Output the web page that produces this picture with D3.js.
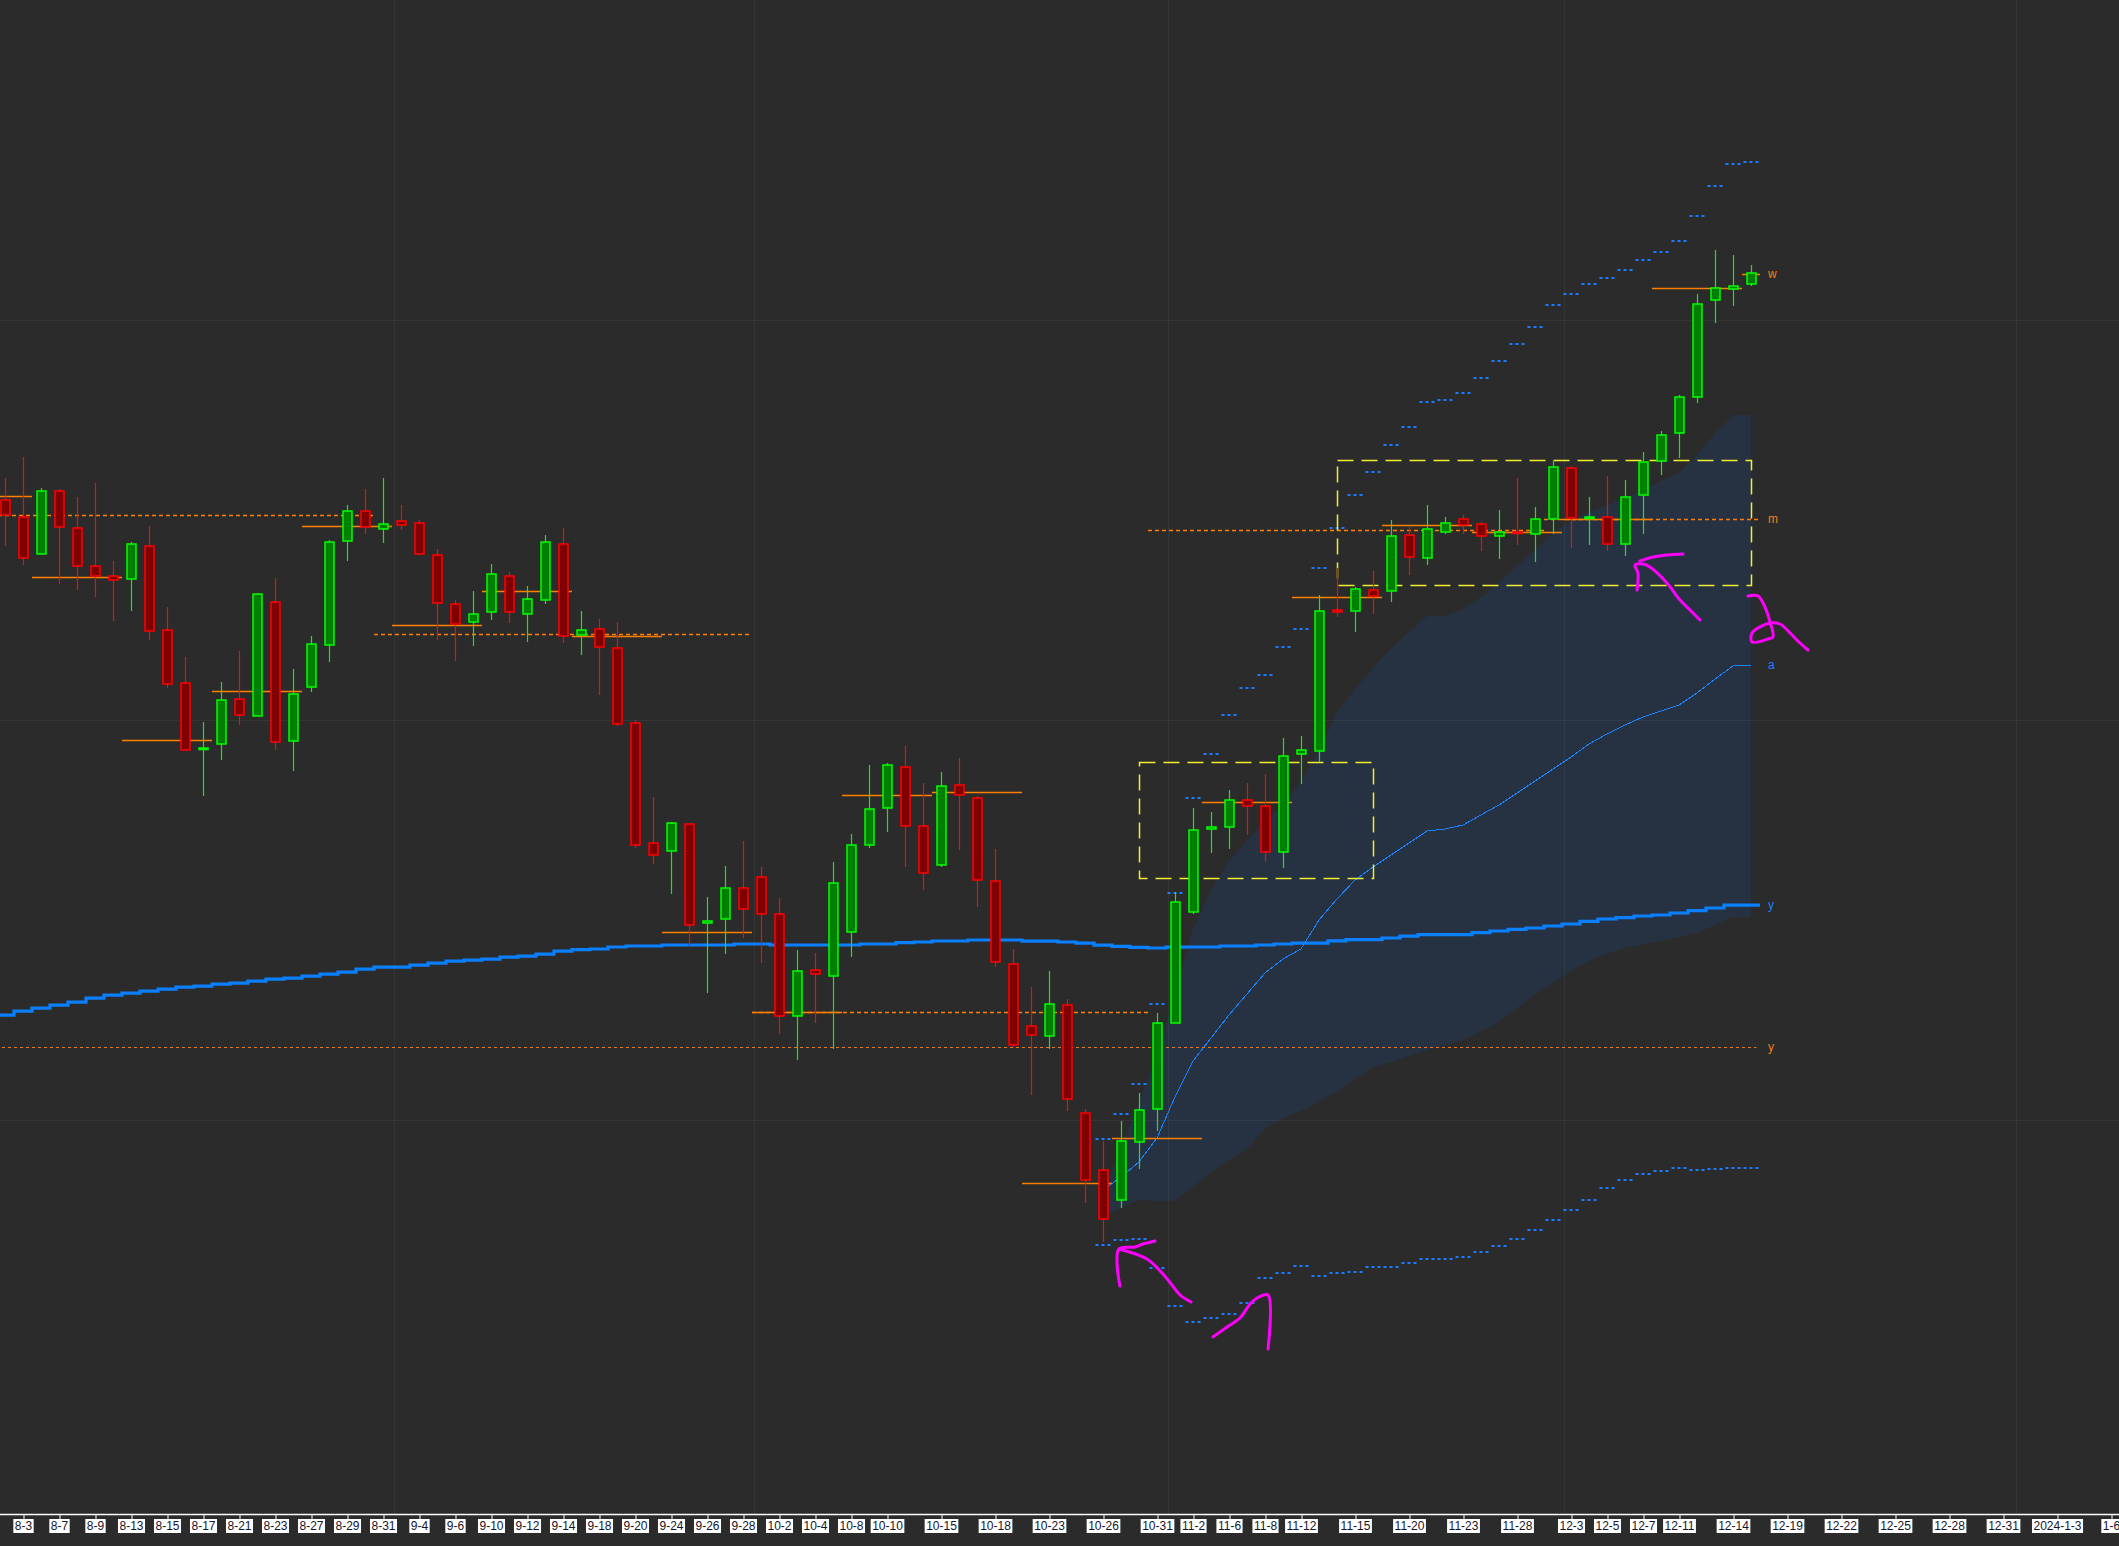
<!DOCTYPE html>
<html><head><meta charset="utf-8">
<script src="https://cdn.jsdelivr.net/npm/d3@7"></script>
<style>
html,body{margin:0;padding:0;background:#2b2b2b;overflow:hidden}
svg{display:block}
</style></head><body>
<svg id="c" width="2119" height="1546"></svg>
<script>
// ---------- DATA ----------
const opens = [
3510,3501.5,3483,3514.5,3496,3477,3472,3470.5,3487,3445,
3418.5,3385.5,3388,3410.5,3402,3459,3389.5,3416.5,3437.5,3489.5,
3504.5,3495.5,3499.5,3498.5,3482.5,3458,3449,3454,3472,3453,
3460,3488,3442.5,3445.5,3436,3398.5,3338.5,3334.5,3348,3298.5,
3300.5,3316,3321.5,3303,3252,3275,3272,3294,3337.5,3356,
3376.5,3347,3327.5,3367.5,3361,3319.5,3278,3247,3242,3257.5,
3203.5,3175,3160,3189,3205.5,3248.5,3304,3345.5,3346.5,3360,
3357,3334,3383,3384.5,3455,3454.5,3465,3464.5,3492.5,3481,
3494,3500.5,3498,3492,3494,3493,3500.5,3526,3501,3501.5,
3488,3512.5,3529.5,3543.5,3561.5,3610,3615.5,3618];
const highs = [
3521,3531.5,3516,3515.5,3511.5,3518.5,3479.5,3489,3497,3456.5,
3431.5,3399,3419,3434.5,3463.5,3471,3425.5,3442,3490,3507.5,
3515.5,3521,3507.5,3500,3485.5,3460,3464.5,3478,3474,3467,
3492.5,3496,3454.5,3450.5,3449,3400,3361.5,3349,3348,3311.5,
3327,3339.5,3326.5,3311,3285,3283.5,3329,3343,3377.5,3378.5,
3387,3368.5,3374,3381,3362,3335.5,3285.5,3266.5,3274.5,3260.5,
3205.5,3189.5,3199.5,3213.5,3253.5,3314,3356,3354,3365,3368.5,
3373,3391,3392,3462.5,3476,3466.5,3474.5,3500,3496.5,3507.5,
3501.5,3502.5,3499,3505,3521,3506.5,3529.5,3527,3511.5,3522,
3520,3534,3544.5,3562.5,3613,3635,3632.5,3627.5];
const lows = [
3487,3477.5,3483,3468,3465,3461.5,3449.5,3454.5,3440,3416,
3385,3362,3380,3397.5,3402,3385,3374.5,3414,3429,3479.5,
3493,3488.5,3495,3482.5,3440,3429.5,3437,3450,3448.5,3439,
3458,3438.5,3432.5,3412.5,3397,3336,3328,3313,3286.5,3263.5,
3283,3291,3278.5,3243,3230,3248.5,3235.5,3281.5,3336,3344,
3326.5,3315,3326.5,3335,3306.5,3276.5,3236.5,3212.5,3235.5,3204.5,
3158.5,3139,3156,3175.5,3194.5,3248.5,3303,3333.5,3335.5,3342.5,
3329,3326,3368,3379,3451.5,3444,3453,3459,3472.5,3477.5,
3493,3493,3484.5,3480.5,3487.5,3479,3493,3486,3487.5,3484.5,
3482,3493,3522.5,3531,3558.5,3598.5,3607,3617];
const closes = [
3502.5,3481,3514.5,3496.5,3477,3472,3470,3488,3444.5,3418,
3385,3386,3410,3402.5,3463,3389,3413,3438,3489,3504.5,
3496.5,3498,3497.5,3483,3458.5,3448,3453,3473,3454,3460.5,
3489,3442,3445,3436.5,3398,3337.5,3332.5,3348.5,3297.5,3299.5,
3316,3305.5,3303,3252,3274.5,3273,3318.5,3337.5,3355.5,3377.5,
3347,3323.5,3367,3362.5,3320,3279,3237.5,3242.5,3258,3210.5,
3170,3150.5,3189.5,3205,3248.5,3309,3345,3346.5,3360,3357,
3334,3382,3385,3454.5,3454,3465.5,3462,3492,3481.5,3495.5,
3498.5,3497.5,3492,3494,3493.5,3500.5,3526.5,3501,3501.5,3488,
3511.5,3529,3542.5,3561.5,3608,3616,3617,3623.5];

// long moving average (thick line, label "y"), one value per candle
const maLong = [
3252.4,3254.4,3255.9,3257.4,3258.9,3260.9,3262.4,3263.4,3264.4,3265.4,
3266.4,3266.9,3267.9,3268.4,3269.4,3270.4,3270.9,3271.9,3272.9,3273.9,
3275.4,3276.4,3276.4,3277.4,3278.4,3279.4,3279.9,3280.4,3281.4,3281.9,
3282.9,3284.4,3285.2,3285.5,3286.5,3287,3287,3287.5,3287.5,3287.5,
3287.5,3288,3288,3287.5,3287.5,3287.5,3287.5,3287.5,3288,3288,
3288.7,3289,3289.5,3289.5,3290,3290,3290,3289.4,3289.4,3289,
3288.4,3287.4,3286.8,3286.3,3286,3286.4,3286.5,3286.5,3287,3287,
3287.5,3288,3288.4,3288.4,3289.6,3290.2,3290.2,3291,3291.9,3292.7,
3292.7,3292.7,3293.7,3294.5,3295.3,3296,3297,3298,3299.3,3300.5,
3301.2,3302,3302.5,3303.5,3304.7,3306,3307.4,3307.4];

// anchored series starting at candle 61
const anchorStart = 61;
const avgLine = [3165,3171.5,3179,3191,3211.5,3229.5,3241,3252.5,3263,3273.5,3280.5,3285.5,3300,3310.5,3320,3326.5,3332.5,3338.5,3344.5,3345.5,3347.5,3352.5,3357.5,3363.5,3369.5,3375.5,3381.5,3388,3393,3397.5,3401.5,3404.5,3407.5,3413.5,3420.5,3427,3427.5];
const bandUpper = [3165,3185.5,3209,3232.5,3263.5,3295.5,3315,3329.5,3339.5,3349,3358,3369,3385,3403.5,3415.5,3426,3435.5,3444,3452,3452,3455.5,3461.5,3468.5,3477,3485,3493.5,3499.5,3504,3507.5,3511,3515,3519.5,3523.5,3532.5,3543.5,3552.5,3552.5];
const bandLower = [3151.5,3156,3160,3159.5,3159.5,3166.5,3174,3180,3185.5,3195.5,3201,3204.5,3209,3214.5,3220.5,3226.5,3229,3232,3235,3237.5,3240,3244.5,3249,3256,3262.5,3268.5,3274.5,3279.5,3283,3286,3288,3289.5,3291.5,3293.5,3297.5,3301.5,3301.5];
const stopUpper = [3190.5,3203,3218,3258,3313.5,3361,3383,3402.5,3416,3422.5,3436.5,3445.5,3476,3496,3512.5,3524,3537.5,3546.5,3559,3560,3563.5,3571,3579.5,3588,3596.5,3607.5,3613,3618,3621,3625,3630,3634,3639.5,3652,3667,3678,3679];
const stopLower = [3137.5,3140,3140.5,3126,3107,3099,3101,3103,3108.5,3121,3123.5,3127,3122,3123.5,3124,3126.5,3126.5,3128.5,3130.5,3130.5,3131.5,3134,3137,3140.5,3145,3150,3155,3160,3166,3170,3173,3174.5,3176,3175,3175.5,3176,3176];

// weekly / monthly / yearly reference levels
const weekStarts = [-3,2,7,12,17,22,27,32,37,42,47,52,57,62,67,72,77,82,87,92,97];
const weeklyLevels = [3512,3471.5,3390,3414.5,3497,3447.5,3464.5,3442,3294,3254,3362.5,3364,3168.5,3191,3359,3461.5,3497.5,3494,3500.5,3616,3623];
const monthStarts = [-3,21,42,64,86];
const monthEnds = [20,41,63,85,97];
const monthlyLevels = [3502.5,3443,3254,3495,3500.5];
const yearlyLevel = 3236.5;

// consolidation boxes [firstCandle, lastCandle, low, high]
const boxes = [[63,76,3321,3379],[74,97,3467.5,3530]];

// hand-drawn marks (candle index, price)
const strokes = [
 [[61.94,3117],[61.78,3128.5],[61.89,3135.5],[62.78,3136.5],[63.22,3138],[63.89,3139.5]],
 [[61.89,3135.5],[63.44,3130.5],[64.28,3123.5],[64.83,3117.5],[65.28,3112.5],[65.89,3109]],
 [[67.11,3091.5],[67.89,3096.5],[68.61,3101],[69.17,3108],[69.56,3111],[70.17,3112.5],[70.17,3085.5]],
 [[90.67,3465],[90.72,3473.5],[90.56,3477.5],[91,3478],[91.39,3476.5],[92.33,3468.5],[93.06,3460],[93.78,3453.5],[94.17,3450]],
 [[90.83,3479.5],[91.56,3481.5],[92.33,3482.5],[93.22,3483]],
 [[96.83,3462],[97.39,3462],[97.67,3458.5],[98.06,3449],[98.22,3441.5],[97.94,3440.5],[97.06,3439],[97.06,3443.5],[98.06,3448.5],[98.61,3448],[99.17,3443.5],[99.72,3438.5],[100.17,3435]]
];

// axis
const tickLabels = ["8-3","8-7","8-9","8-13","8-15","8-17","8-21","8-23","8-27","8-29","8-31","9-4","9-6","9-10","9-12","9-14","9-18","9-20","9-24","9-26","9-28","10-2","10-4","10-8","10-10","10-15","10-18","10-23","10-26","10-31","11-2","11-6","11-8","11-12","11-15","11-20","11-23","11-28","12-3","12-5","12-7","12-11","12-14","12-19","12-22","12-25","12-28","12-31","2024-1-3","1-6"];
const tickIndex = [1,3,5,7,9,11,13,15,17,19,21,23,25,27,29,31,33,35,37,39,41,43,45,47,49,52,55,58,61,64,66,68,70,72,75,78,81,84,87,89,91,93,96,99,102,105,108,111,114,117];
const gridPrices = [3200,3400,3600];
const gridIndex = [21.6,41.6,64.6,86.6,111.7];

// ---------- DRAW ----------
const W = 2119, H = 1546, AXIS_Y = 1514;
const x = d3.scaleLinear().domain([0,97]).range([5,1751]);
const y = d3.scaleLinear().domain([3200,3600]).range([1120,320]);
const svg = d3.select('#c');
svg.append('rect').attr('width',W).attr('height',H).attr('fill','#2b2b2b');

const anchored = avgLine.map((v,k)=>({i:anchorStart+k, a:v, u:bandUpper[k], l:bandLower[k], su:stopUpper[k], sl:stopLower[k]}));

// band
svg.append('path').datum(anchored)
  .attr('d', d3.area().x(d=>x(d.i)).y0(d=>y(d.l)).y1(d=>y(d.u)))
  .attr('fill','rgb(33,57,89)').attr('fill-opacity',0.5);

// grid
const grid = svg.append('g').attr('stroke','rgba(255,255,255,0.05)').attr('stroke-width',1);
grid.selectAll('.h').data(gridPrices).join('line')
  .attr('x1',0).attr('x2',W).attr('y1',d=>Math.round(y(d))+0.5).attr('y2',d=>Math.round(y(d))+0.5);
grid.selectAll('.v').data(gridIndex).join('line')
  .attr('y1',0).attr('y2',AXIS_Y).attr('x1',d=>Math.round(x(d))+0.5).attr('x2',d=>Math.round(x(d))+0.5);

// long MA step line
const stepPts = [];
maLong.forEach((v,i)=>{ stepPts.push([i-0.5,v]); stepPts.push([i+0.5,v]); });
svg.append('path').datum(stepPts)
  .attr('d', d3.line().x(d=>x(d[0])).y(d=>y(d[1])))
  .attr('fill','none').attr('stroke','#0a80ff').attr('stroke-width',3.2);

// anchored average thin line
svg.append('path').datum(anchored)
  .attr('d', d3.line().x(d=>x(d.i)).y(d=>y(d.a)))
  .attr('fill','none').attr('stroke','#1a84ff').attr('stroke-width',1)
  .attr('shape-rendering','crispEdges');

// levels
const lv = svg.append('g').attr('fill','none');
const weeks = weeklyLevels.map((v,k)=>({s:weekStarts[k], e:(k<weekStarts.length-1?weekStarts[k+1]-1:97), v}));
lv.selectAll('.w').data(weeks).join('line')
  .attr('x1',d=>x(d.s-0.5)).attr('x2',d=>x(d.e+0.5))
  .attr('y1',d=>Math.round(y(d.v))+0.5).attr('y2',d=>Math.round(y(d.v))+0.5)
  .attr('stroke','#ff8000').attr('stroke-width',1.5);
const months = monthlyLevels.map((v,k)=>({s:monthStarts[k], e:monthEnds[k], v}));
lv.selectAll('.m').data(months).join('line')
  .attr('x1',d=>x(d.s-0.5)).attr('x2',d=>x(d.e+0.5))
  .attr('y1',d=>Math.round(y(d.v))+0.5).attr('y2',d=>Math.round(y(d.v))+0.5)
  .attr('stroke','#ff8000').attr('stroke-width',1.5).attr('stroke-dasharray','4,3');
lv.append('line')
  .attr('x1',x(-3.5)).attr('x2',x(97.3))
  .attr('y1',Math.round(y(yearlyLevel))+0.5).attr('y2',Math.round(y(yearlyLevel))+0.5)
  .attr('stroke','#e87a18').attr('stroke-width',1.2).attr('stroke-dasharray','3,3');

// stop dashes
const sd = svg.append('g').attr('stroke','#1a7cff').attr('stroke-width',2).attr('stroke-dasharray','3,3');
['su','sl'].forEach(key=>{
  sd.selectAll('.'+key).data(anchored).join('line')
    .attr('x1',d=>x(d.i)-7.5).attr('x2',d=>x(d.i)+7.5)
    .attr('y1',d=>Math.round(y(d[key]))).attr('y2',d=>Math.round(y(d[key])));
});

// boxes
svg.append('g').selectAll('rect').data(boxes).join('rect')
  .attr('x',d=>x(d[0])+0.5).attr('width',d=>x(d[1])-x(d[0]))
  .attr('y',d=>Math.round(y(d[3]))+0.5).attr('height',d=>y(d[2])-y(d[3]))
  .attr('fill','none').attr('stroke','#f0f030').attr('stroke-width',1.5)
  .attr('stroke-dasharray','16,8');

// candles
const cdata = opens.map((o,i)=>({i,o,h:highs[i],l:lows[i],c:closes[i],up:closes[i]>=o}));
const cg = svg.append('g');
cg.selectAll('.wk').data(cdata).join('line')
  .attr('x1',d=>x(d.i)+0.5).attr('x2',d=>x(d.i)+0.5)
  .attr('y1',d=>y(d.h)).attr('y2',d=>y(d.l))
  .attr('stroke',d=>d.up?'#18e818':'#e81010').attr('stroke-width',1.2);
cg.selectAll('.bd').data(cdata).join('rect')
  .attr('x',d=>x(d.i)-4).attr('width',9)
  .attr('y',d=>y(Math.max(d.o,d.c)))
  .attr('height',d=>Math.max(1.5, Math.abs(y(d.o)-y(d.c))))
  .attr('fill',d=>d.up?'#008000':'#800000')
  .attr('stroke',d=>d.up?'#00ff00':'#ff0000').attr('stroke-width',1.5);

// hand-drawn marks
svg.append('g').selectAll('path').data(strokes).join('path')
  .attr('d', d3.line().x(d=>x(d[0])).y(d=>y(d[1])).curve(d3.curveCatmullRom))
  .attr('fill','none').attr('stroke','#ff00ff').attr('stroke-width',3)
  .attr('stroke-linecap','round').attr('stroke-linejoin','round');

// right-side labels
const labels = [
  {t:'w', v:weeklyLevels[weeklyLevels.length-1], c:'#f08020'},
  {t:'m', v:monthlyLevels[monthlyLevels.length-1], c:'#f08020'},
  {t:'a', v:avgLine[avgLine.length-1], c:'#1a80ff'},
  {t:'y', v:maLong[maLong.length-1], c:'#1a80ff'},
  {t:'y', v:yearlyLevel, c:'#f08020'}
];
svg.append('g').selectAll('text').data(labels).join('text')
  .attr('x',x(97)+17).attr('y',d=>y(d.v)).attr('dy','0.35em')
  .attr('fill',d=>d.c).attr('font-family','Liberation Sans, Arial, sans-serif')
  .attr('font-size',12).text(d=>d.t);

// x axis
svg.append('line').attr('x1',0).attr('x2',W).attr('y1',AXIS_Y+0.5).attr('y2',AXIS_Y+0.5)
  .attr('stroke','#ffffff').attr('stroke-width',1.5);
const axis = d3.axisBottom(x).tickValues(tickIndex)
  .tickFormat((d,k)=>tickLabels[k]).tickSizeInner(5).tickSizeOuter(0).tickPadding(2);
const ag = svg.append('g').attr('transform',`translate(0,${AXIS_Y})`).call(axis);
ag.select('.domain').remove();
ag.selectAll('.tick line').attr('stroke','#ffffff').attr('x1',0.5).attr('x2',0.5);
ag.selectAll('.tick text').attr('fill','#14142a').attr('font-size',12)
  .attr('font-family','Liberation Sans, Arial, sans-serif');
ag.selectAll('.tick').each(function(){
  const t = d3.select(this).select('text');
  const w = t.node().getComputedTextLength();
  d3.select(this).insert('rect','text')
    .attr('x',-w/2-1.5).attr('y',5).attr('width',w+3).attr('height',14).attr('fill','#ffffff');
});
</script>
</body></html>
